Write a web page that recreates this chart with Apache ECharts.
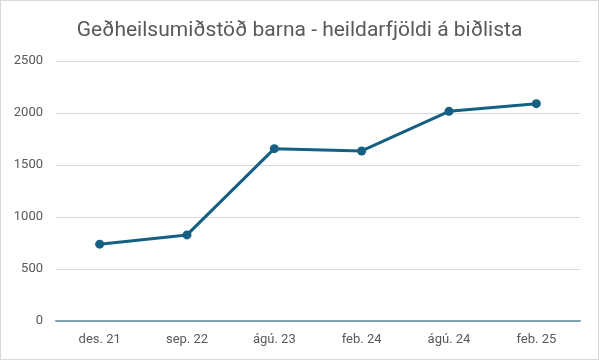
<!DOCTYPE html>
<html><head><meta charset="utf-8">
<script src="https://cdn.jsdelivr.net/npm/echarts@6/dist/echarts.min.js"></script>
<style>html,body{margin:0;padding:0;background:#fff}#c{width:599px;height:360px;box-sizing:border-box;border:1px solid #d9d9d9}</style>
</head><body><div id="c"></div>
<script>
const categories = ['des. 21','sep. 22','ágú. 23','feb. 24','ágú. 24','feb. 25'];
const values = [739, 828, 1657, 1635, 2016, 2090];
const FONT = 'Roboto, "DejaVu Sans", sans-serif';
const chart = echarts.init(document.getElementById('c'));
chart.setOption({
  animation: false,
  title: {
    text: 'Geðheilsumiðstöð barna - heildarfjöldi á biðlista',
    left: 'center', top: 14,
    textStyle: {fontFamily: FONT, fontSize: 21, fontWeight: 'normal', color: '#595959'}
  },
  grid: {left: 55, right: 18, top: 60, bottom: 38},
  xAxis: {
    type: 'category', data: categories, boundaryGap: true,
    axisLine: {lineStyle: {color: '#7fa3b5', width: 2}},
    axisTick: {show: false},
    axisLabel: {color: '#595959', fontSize: 13, fontFamily: FONT, margin: 12}
  },
  yAxis: {
    type: 'value', min: 0, max: 2500, interval: 500,
    axisLine: {show: false}, axisTick: {show: false},
    splitLine: {lineStyle: {color: '#d9d9d9', width: 1}},
    axisLabel: {color: '#595959', fontSize: 13, fontFamily: FONT, margin: 13, formatter: v => String(v)}
  },
  series: [{
    type: 'line', data: values,
    symbol: 'circle', symbolSize: 9,
    lineStyle: {color: '#156082', width: 3},
    itemStyle: {color: '#156082'}
  }]
});
</script></body></html>
